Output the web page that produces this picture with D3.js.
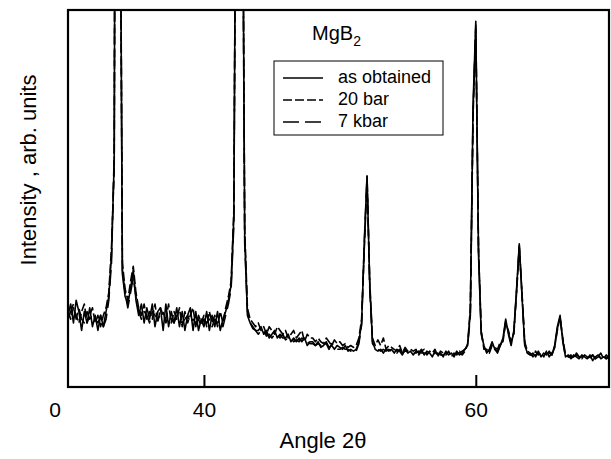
<!DOCTYPE html>
<meta charset="utf-8">
<style>
body { margin: 0; background: #fff; }
svg text { font-family: "Liberation Sans", Arial, sans-serif; fill: #000; }
.trace { fill: none; stroke: #000; stroke-width: 1.6px; stroke-linejoin: round; }
.frame { fill: none; stroke: #000; stroke-width: 2.2px; }
</style>
<svg width="611" height="459"></svg>
<script src="https://d3js.org/d3.v7.min.js"></script>
<script>
// angle grid: 30.0 .. 70.0 in 0.2 degree steps (201 points)
var angleStart = 30, angleStep = 0.2;

var asObtained = [
  19, 22, 17, 23, 20, 15, 20, 17, 21, 16,
  19, 15, 19, 16, 20, 24, 35, 60, 330, 170,
  30, 24, 22, 26, 31, 23, 19, 22, 17, 21,
  18, 22, 16, 20, 21, 15, 22, 16, 20, 17,
  21, 16, 20, 15, 19, 21, 15, 20, 15, 18,
  16, 20, 15, 19, 16, 20, 15, 18, 20, 23,
  27, 45, 180, 320, 170, 40, 19, 17, 16, 15,
  15, 16, 14, 15, 13, 14, 15, 13, 14, 13,
  13, 14, 12, 13, 12, 13, 12, 13, 11, 12,
  12, 11, 12, 10.5, 11, 12, 10.5, 11, 10, 11,
  10.5, 10, 11, 9.5, 10, 9.5, 10, 12, 17, 38,
  56, 27, 12, 10, 9.5, 10, 9, 10, 9.5, 10,
  9, 10, 9.5, 8.5, 10, 9, 9.5, 8.5, 9.5, 9,
  10, 8.5, 9.5, 9, 8, 9.5, 8.5, 9, 8, 9.5,
  8.5, 9, 8, 9.5, 8.5, 9, 10, 11, 20, 75,
  97, 35, 14, 11, 9, 10, 12, 10, 9, 11,
  13, 18, 14, 11, 15, 26, 38, 24, 11, 9,
  8.5, 9, 8, 9.5, 8, 9, 8.5, 9.5, 8.5, 11,
  16, 19, 12, 8, 8.5, 7.5, 8.5, 8, 7.5, 8.5,
  8, 7.5, 8.5, 7, 8, 8.5, 7.5, 8, 7.5, 8.5,
  8
];

var bar20 = [
  20, 18, 21, 19, 17, 20, 22, 17, 19, 21,
  17, 19, 16, 19, 21, 25, 37, 58, 320, 165,
  33, 26, 23, 28, 32, 25, 21, 19, 22, 18,
  20, 18, 22, 17, 21, 19, 18, 22, 17, 20,
  18, 21, 16, 20, 17, 19, 21, 16, 19, 17,
  19, 16, 20, 17, 19, 16, 20, 17, 21, 24,
  28, 47, 175, 315, 175, 42, 21, 18, 17, 16,
  17, 15, 16, 14, 16, 15, 14, 16, 15, 14,
  15, 13, 14, 15, 13, 14, 15, 12, 14, 13,
  13, 12, 13, 12, 11.5, 13, 12, 11, 12.5, 11.5,
  12, 11, 11.5, 10.5, 11, 10.5, 11, 13, 18, 37,
  55, 28, 13, 11, 12.5, 11, 13, 10, 11, 10.5,
  10, 9.5, 11, 9, 10.5, 9.5, 10, 9.5, 10, 8.5,
  9.5, 10, 8.5, 9.5, 9, 10, 8, 9.5, 9, 8.5,
  9.5, 8, 9, 8.5, 9.5, 8.5, 9.5, 11.5, 21, 72,
  95, 37, 15, 10, 10, 9, 11, 10.5, 10, 12,
  12, 17, 15, 12, 14, 25, 37, 25, 12, 9.5,
  9, 8, 9.5, 8.5, 9, 8, 9.5, 8, 9, 10.5,
  15, 18.5, 13, 8.5, 8, 8.5, 7.5, 9, 8, 7.5,
  8.5, 8, 7.5, 8.5, 7.5, 8, 9, 7.5, 8.5, 7.5,
  8.5
];

var kbar7 = [
  18, 20, 22, 18, 21, 18, 17, 20, 18, 19,
  18, 17, 19, 16, 18, 23, 33, 62, 340, 175,
  31, 25, 21, 25, 29, 24, 20, 18, 20, 19,
  17, 20, 19, 18, 19, 20, 17, 19, 18, 17,
  19, 18, 17, 18, 19, 17, 18, 17, 18, 16,
  18, 17, 18, 16, 18, 17, 18, 16, 19, 22,
  26, 43, 185, 325, 165, 38, 20, 17, 15.5, 15,
  14, 15, 15, 13.5, 14, 13, 14, 14, 13, 14,
  12.5, 13, 13, 12, 12.5, 12, 13, 12, 12, 11.5,
  11.5, 11, 11.5, 11, 10.5, 11.5, 10, 11.5, 10.5, 10,
  10, 10.5, 10, 10, 9.5, 10, 9.5, 11.5, 16.5, 39,
  56, 26, 11.5, 10.5, 10, 9.5, 10, 9.5, 10, 9.5,
  9.5, 9, 10, 9, 9.5, 9.5, 9, 9, 9, 9.5,
  9, 9, 9, 8.5, 8.5, 9, 9, 8.5, 8.5, 9,
  9, 8.5, 8.5, 9, 9, 9.5, 10, 11, 19, 73,
  96, 36, 14.5, 10.5, 9.5, 9.5, 11.5, 10, 9.5, 11,
  12.5, 17.5, 14.5, 11.5, 14.5, 25.5, 37.5, 24.5, 11.5, 9,
  8.5, 8.5, 8.5, 9, 8.5, 8.5, 9, 9, 8.5, 10.5,
  15.5, 18.5, 12.5, 8, 8, 8, 8, 8.5, 8, 8,
  8, 7.5, 8, 8.5, 7.5, 8, 8, 8.5, 7.5, 8,
  8
];

var seriesNames = ["as obtained", "20 bar", "7 kbar"];
var xTicks = [40, 60];

var svg = d3.select("svg"),
    plotL = 68, plotT = 10, plotR = 609, plotB = 387;

var x = d3.scaleLinear().domain([30, 69.8]).range([plotL, plotR]);
var y = d3.scaleLinear().domain([0, 100]).range([plotB, plotT]);

svg.append("clipPath").attr("id", "plot")
  .append("rect")
  .attr("x", plotL).attr("y", plotT)
  .attr("width", plotR - plotL).attr("height", plotB - plotT);

var line = d3.line()
  .x(function(d, i) { return x(angleStart + i * angleStep); })
  .y(function(d) { return y(d); });

var dashes = [null, "9,3", "16,6"];
var traces = [asObtained, bar20, kbar7];

var g = svg.append("g").attr("clip-path", "url(#plot)");
traces.forEach(function(s, k) {
  g.append("path")
    .attr("class", "trace")
    .attr("d", line(s))
    .attr("stroke-dasharray", dashes[k]);
});

// axis with inward ticks
var xAxis = d3.axisBottom(x)
  .tickValues(xTicks)
  .tickSize(-12)
  .tickPadding(15)
  .tickFormat(d3.format("d"));

var ax = svg.append("g")
  .attr("transform", "translate(0," + plotB + ")")
  .call(xAxis);
ax.select(".domain").remove();
ax.selectAll(".tick line").attr("stroke", "#000").attr("stroke-width", 2);
ax.selectAll(".tick text")
  .style("font-size", "21px")
  .attr("fill", "#000");

// stray "0" left of the frame
svg.append("text")
  .attr("x", x(30) - 13).attr("y", 417)
  .attr("text-anchor", "middle")
  .style("font-size", "21px")
  .text("0");

svg.append("rect")
  .attr("class", "frame")
  .attr("x", plotL).attr("y", plotT)
  .attr("width", plotR - plotL).attr("height", plotB - plotT);

svg.append("text")
  .attr("x", 323).attr("y", 448)
  .attr("text-anchor", "middle")
  .style("font-size", "22px")
  .text("Angle 2θ");

svg.append("text")
  .attr("transform", "translate(36,170) rotate(-90)")
  .attr("text-anchor", "middle")
  .style("font-size", "22px")
  .text("Intensity , arb. units");

// title
var title = svg.append("text")
  .attr("x", 312).attr("y", 40)
  .style("font-size", "20px");
title.append("tspan").text("MgB");
title.append("tspan").attr("dy", 6).style("font-size", "14px").text("2");

// legend
var lg = svg.append("g");
lg.append("rect")
  .attr("x", 274).attr("y", 61)
  .attr("width", 169).attr("height", 74)
  .attr("fill", "#fff").attr("stroke", "#000").attr("stroke-width", 1);

seriesNames.forEach(function(name, k) {
  var yy = 78 + k * 22;
  lg.append("line")
    .attr("x1", 283).attr("x2", 323)
    .attr("y1", yy).attr("y2", yy)
    .attr("stroke", "#000").attr("stroke-width", 1.4)
    .attr("stroke-dasharray", dashes[k]);
  lg.append("text")
    .attr("x", 338).attr("y", yy + 5)
    .style("font-size", "18px")
    .text(name);
});
</script>
